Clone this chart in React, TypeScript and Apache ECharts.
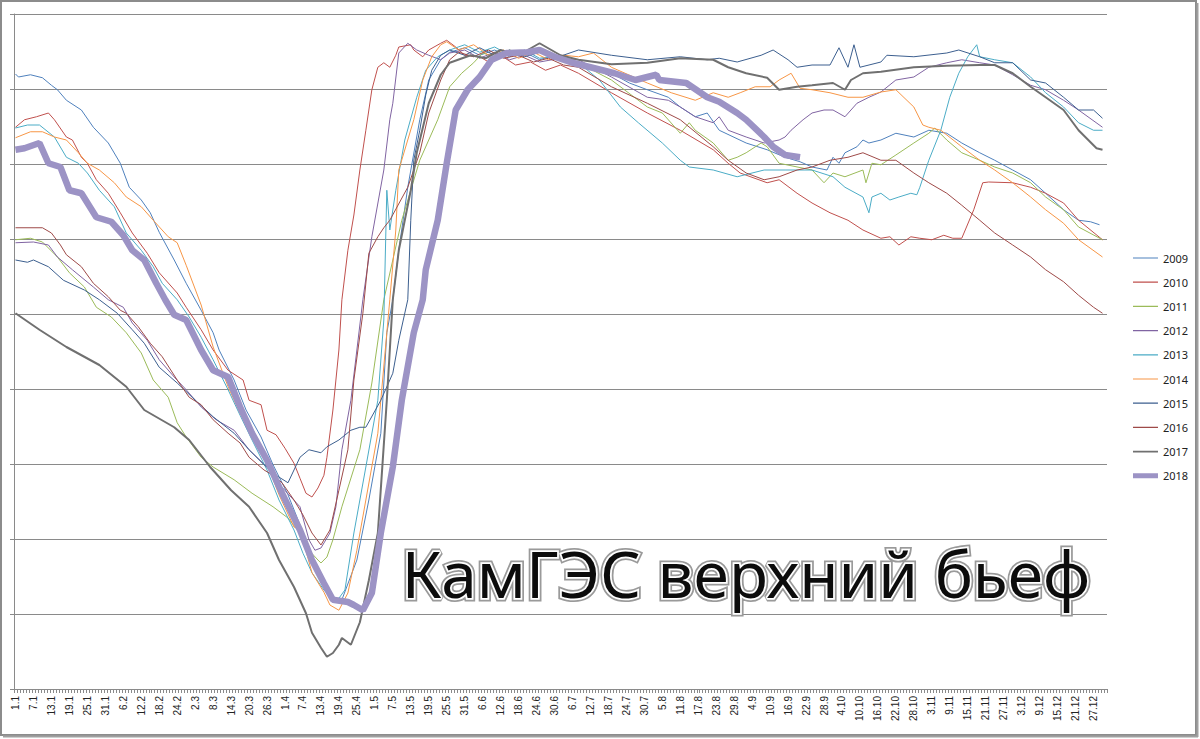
import React, { useEffect, useRef } from "react";
import * as echarts from "echarts";

// Month lengths used to build the daily category labels (d.m)
const MONTH_DAYS = [31, 28, 31, 30, 31, 30, 31, 31, 30, 31, 30, 31];
const dayLabels: string[] = [];
MONTH_DAYS.forEach((n, m) => {
  for (let d = 1; d <= n; d++) dayLabels.push(`${d}.${m + 1}`);
});

const years = ["2009", "2010", "2011", "2012", "2013", "2014", "2015", "2016", "2017", "2018"];

// [day index from 1 Jan, level, m]
const s2009 = [[0,108.2],[1,108.16],[5,108.19],[9,108.15],[12,108.05],[14,107.99],[17,107.85],[22,107.72],[26,107.49],[31,107.28],[35,107.01],[38,106.69],[42,106.52],[45,106.35],[48,106.09],[53,105.72],[57,105.41],[62,105.05],[66,104.75],[68,104.52],[73,104.12],[77,103.72],[82,103.36],[86,102.99],[91,102.59],[95,102.19],[99,101.72],[103,101.39],[106,101.19],[109,101.19],[114,101.72],[118,102.52],[122,103.41],[124,104.75],[126,105.19],[128,105.85],[131,106.69],[135,107.59],[138,108.12],[142,108.39],[145,108.49],[150,108.55],[155,108.45],[160,108.52],[165,108.43],[170,108.49],[175,108.39],[180,108.45],[185,108.36],[188,108.35],[195,108.28],[199,108.21],[205,108.08],[211,107.99],[218,107.89],[222,107.76],[227,107.63],[231,107.68],[235,107.45],[244,107.28],[251,107.19],[257,107.09],[262,107.03],[266,106.96],[271,106.92],[273,107.09],[275,107.01],[277,107.15],[281,107.23],[283,107.32],[285,107.28],[289,107.32],[294,107.41],[300,107.36],[305,107.45],[311,107.41],[316,107.28],[322,107.15],[327,107.05],[333,106.92],[339,106.79],[344,106.61],[350,106.39],[355,106.25],[359,106.23],[362,106.19]];
const s2010 = [[0,107.49],[3,107.59],[7,107.63],[11,107.68],[13,107.59],[17,107.36],[19,107.32],[22,107.09],[24,107.01],[27,106.79],[31,106.61],[35,106.35],[39,106.08],[44,105.81],[48,105.55],[54,105.28],[57,105.09],[62,104.79],[66,104.52],[71,104.25],[76,104.12],[78,103.85],[82,103.79],[84,103.45],[87,103.39],[90,103.21],[93,103.01],[95,102.81],[97,102.61],[99,102.56],[101,102.68],[103,102.85],[104,103.09],[106,103.72],[108,104.52],[109,105.19],[111,105.85],[113,106.32],[115,106.92],[117,107.45],[119,107.99],[121,108.29],[123,108.35],[125,108.29],[127,108.45],[128,108.56],[132,108.59],[133,108.52],[136,108.43],[138,108.52],[142,108.61],[144,108.65],[147,108.56],[150,108.45],[155,108.43],[158,108.36],[162,108.45],[167,108.32],[172,108.36],[177,108.25],[182,108.32],[188,108.21],[199,107.95],[211,107.68],[222,107.45],[233,107.19],[238,107.01],[242,106.88],[251,106.75],[255,106.79],[261,106.61],[266,106.48],[272,106.35],[278,106.25],[283,106.12],[289,106.01],[292,106.03],[295,105.92],[299,106.03],[302,106.01],[306,105.99],[310,106.05],[313,106.01],[316,106.01],[320,106.39],[323,106.75],[325,106.76],[333,106.75],[339,106.69],[344,106.61],[350,106.48],[355,106.25],[363,105.99]];
const s2011 = [[0,105.99],[5,106.01],[9,105.96],[14,105.76],[18,105.55],[23,105.36],[27,105.09],[32,104.96],[37,104.75],[42,104.48],[46,104.12],[51,103.89],[54,103.55],[57,103.36],[62,103.09],[66,102.96],[73,102.79],[79,102.61],[86,102.43],[91,102.28],[95,102.08],[98,101.85],[101,101.72],[102,101.68],[104,101.76],[106,101.99],[109,102.43],[115,103.19],[119,104.08],[123,105.19],[126,105.72],[129,106.25],[135,107.05],[141,107.59],[145,108.03],[149,108.21],[153,108.35],[156,108.48],[160,108.43],[165,108.52],[170,108.45],[175,108.49],[180,108.41],[185,108.39],[188,108.35],[199,108.12],[211,107.76],[216,107.68],[222,107.41],[225,107.55],[227,107.45],[233,107.28],[238,107.05],[241,107.09],[244,107.15],[249,107.28],[251,107.23],[255,107.01],[266,106.92],[270,106.75],[273,106.88],[277,106.83],[283,106.92],[284,106.75],[286,107.01],[289,106.99],[294,107.12],[300,107.28],[305,107.41],[307,107.48],[311,107.32],[316,107.15],[322,107.05],[327,106.96],[333,106.88],[339,106.75],[344,106.56],[350,106.39],[355,106.16],[363,105.99]];
const s2012 = [[0,105.95],[6,105.96],[11,105.92],[14,105.76],[19,105.59],[26,105.36],[31,105.19],[36,105.09],[39,104.88],[44,104.65],[48,104.39],[53,104.16],[57,103.99],[62,103.76],[67,103.59],[73,103.45],[78,103.19],[84,102.96],[89,102.69],[95,102.43],[98,101.99],[100,101.85],[102,101.88],[105,102.08],[107,102.43],[109,103.19],[112,103.85],[114,104.52],[116,105.19],[119,106.03],[123,106.92],[125,107.59],[126,107.81],[128,108.48],[131,108.61],[134,108.52],[138,108.45],[142,108.39],[145,108.48],[150,108.52],[155,108.41],[160,108.49],[165,108.39],[170,108.45],[175,108.36],[182,108.41],[188,108.39],[199,108.16],[211,107.89],[218,107.85],[222,107.76],[227,107.63],[233,107.55],[235,107.63],[238,107.45],[244,107.36],[250,107.28],[255,107.32],[257,107.36],[259,107.45],[263,107.59],[266,107.68],[270,107.72],[273,107.72],[277,107.63],[281,107.81],[285,107.89],[289,107.96],[294,108.12],[300,108.16],[305,108.29],[311,108.35],[316,108.39],[322,108.35],[327,108.32],[333,108.19],[339,108.05],[344,107.99],[350,107.85],[355,107.72],[363,107.49]];
const s2013 = [[0,107.48],[4,107.52],[8,107.52],[13,107.36],[17,107.09],[21,107.01],[24,106.88],[28,106.65],[33,106.43],[37,106.08],[42,105.85],[46,105.63],[49,105.41],[54,105.19],[58,104.96],[62,104.69],[66,104.39],[71,103.99],[75,103.65],[79,103.32],[84,102.92],[88,102.52],[93,102.12],[96,101.81],[99,101.55],[103,101.32],[106,101.19],[108,101.21],[110,101.32],[113,102.08],[117,102.96],[121,103.85],[123,104.92],[124,106.65],[125,106.12],[127,106.65],[130,107.32],[134,107.89],[137,108.25],[141,108.43],[145,108.52],[150,108.59],[155,108.49],[160,108.56],[165,108.45],[170,108.52],[175,108.41],[182,108.45],[188,108.35],[195,108.12],[202,107.76],[208,107.55],[216,107.28],[222,107.05],[225,106.96],[233,106.92],[241,106.83],[250,106.92],[257,106.92],[266,106.92],[273,106.83],[277,106.69],[283,106.56],[285,106.35],[286,106.56],[289,106.61],[292,106.52],[295,106.56],[299,106.61],[301,106.59],[302,106.69],[305,107.05],[309,107.45],[312,107.89],[315,108.21],[318,108.43],[321,108.59],[322,108.43],[327,108.39],[333,108.35],[339,108.16],[344,107.95],[350,107.76],[355,107.55],[360,107.45],[363,107.45]];
const s2014 = [[0,107.35],[5,107.43],[9,107.43],[13,107.36],[17,107.32],[21,107.15],[24,107.01],[28,106.92],[33,106.75],[37,106.56],[42,106.43],[46,106.25],[51,106.03],[54,105.95],[57,105.65],[62,105.12],[66,104.56],[71,104.03],[75,103.68],[79,103.36],[84,103.01],[88,102.59],[93,102.16],[95,102.12],[96,101.99],[99,101.55],[103,101.29],[105,101.12],[108,101.05],[111,101.28],[114,101.85],[117,102.52],[121,103.41],[124,104.75],[125,105.19],[127,106.12],[128,106.92],[133,107.59],[136,108.12],[139,108.43],[142,108.59],[144,108.63],[148,108.52],[153,108.59],[158,108.45],[163,108.52],[168,108.41],[173,108.49],[178,108.39],[183,108.45],[188,108.43],[193,108.48],[199,108.29],[211,108.08],[219,107.95],[227,107.85],[233,107.95],[238,107.89],[242,107.95],[247,108.03],[252,108.03],[255,108.12],[259,108.21],[262,108.01],[266,107.99],[272,107.95],[278,107.89],[283,107.89],[289,107.96],[294,107.99],[300,107.76],[303,107.52],[305,107.49],[309,107.45],[316,107.23],[322,107.05],[327,106.92],[333,106.75],[339,106.56],[344,106.39],[350,106.21],[355,105.99],[363,105.76]];
const s2015 = [[0,105.72],[4,105.69],[6,105.72],[11,105.63],[16,105.45],[23,105.32],[28,105.19],[34,105.01],[39,104.79],[43,104.61],[48,104.29],[54,104.08],[59,103.89],[66,103.63],[73,103.41],[78,103.19],[83,102.99],[87,102.85],[91,102.75],[93,102.92],[95,103.09],[98,103.19],[102,103.15],[104,103.23],[108,103.32],[112,103.45],[115,103.49],[117,103.49],[122,103.85],[126,104.21],[128,104.65],[131,105.19],[132,106.25],[133,107.05],[135,107.45],[137,107.92],[139,108.25],[142,108.45],[145,108.52],[150,108.45],[155,108.55],[160,108.45],[165,108.52],[170,108.43],[175,108.49],[180,108.41],[188,108.52],[199,108.45],[211,108.39],[222,108.43],[231,108.39],[235,108.41],[241,108.36],[249,108.45],[253,108.52],[258,108.39],[261,108.29],[266,108.32],[272,108.32],[275,108.55],[278,108.29],[280,108.59],[282,108.29],[289,108.36],[291,108.45],[300,108.43],[311,108.48],[315,108.52],[322,108.43],[327,108.35],[333,108.35],[339,108.12],[344,108.08],[350,107.89],[355,107.72],[360,107.72],[363,107.61]];
const s2016 = [[0,106.15],[9,106.15],[12,106.08],[15,105.92],[17,105.79],[22,105.63],[26,105.41],[31,105.23],[35,105.05],[37,105.01],[41,104.83],[45,104.61],[49,104.43],[54,104.12],[58,103.89],[62,103.79],[66,103.59],[71,103.41],[75,103.28],[78,103.09],[83,102.92],[86,102.85],[89,102.75],[93,102.52],[96,102.32],[99,102.08],[102,101.92],[105,102.12],[108,102.65],[111,103.19],[113,104.12],[116,105.01],[118,105.81],[121,106.03],[123,106.15],[125,106.25],[131,106.69],[135,107.15],[138,107.68],[142,108.12],[145,108.39],[148,108.49],[153,108.43],[158,108.52],[163,108.41],[168,108.45],[173,108.36],[178,108.41],[183,108.32],[188,108.29],[199,108.03],[211,107.81],[222,107.59],[233,107.23],[238,107.05],[244,106.88],[250,106.79],[255,106.83],[261,106.92],[266,106.96],[272,107.05],[278,107.09],[283,107.15],[289,107.05],[294,107.05],[300,106.88],[305,106.75],[311,106.61],[316,106.45],[322,106.25],[327,106.08],[333,105.92],[339,105.76],[344,105.59],[350,105.43],[355,105.25],[360,105.09],[363,105.01]];
const s2017 = [[0,105.01],[8,104.79],[17,104.56],[28,104.32],[37,104.03],[43,103.72],[53,103.49],[58,103.32],[65,102.96],[72,102.65],[78,102.43],[84,102.08],[88,101.72],[93,101.36],[97,101.01],[99,100.75],[102,100.55],[104,100.43],[106,100.48],[108,100.59],[109,100.68],[112,100.59],[115,100.89],[118,101.45],[121,102.08],[124,103.85],[126,105.19],[128,105.85],[132,106.65],[134,107.15],[138,107.81],[142,108.19],[145,108.35],[152,108.45],[157,108.41],[162,108.52],[168,108.45],[175,108.61],[182,108.45],[188,108.39],[199,108.33],[211,108.35],[222,108.41],[233,108.39],[238,108.29],[244,108.21],[251,108.15],[255,107.99],[261,108.03],[266,108.05],[273,108.08],[277,107.99],[279,108.12],[283,108.21],[289,108.23],[300,108.29],[311,108.31],[322,108.32],[327,108.32],[333,108.21],[339,108.03],[344,107.89],[350,107.72],[355,107.45],[361,107.21],[363,107.19]];
const s2018 = [[0,107.19],[3,107.21],[8,107.28],[11,107.01],[15,106.96],[18,106.65],[22,106.61],[27,106.29],[32,106.23],[36,106.05],[39,105.85],[43,105.72],[47,105.41],[50,105.19],[53,104.99],[57,104.92],[62,104.52],[66,104.25],[71,104.16],[75,103.76],[79,103.41],[84,103.05],[89,102.61],[95,102.12],[99,101.72],[103,101.41],[106,101.19],[111,101.16],[113,101.12],[116,101.05],[119,101.28],[122,102.08],[126,102.96],[129,103.85],[133,104.75],[136,105.19],[137,105.59],[141,106.25],[144,107.01],[147,107.72],[151,107.99],[155,108.16],[159,108.39],[164,108.48],[171,108.49],[175,108.52],[180,108.43],[186,108.35],[192,108.29],[200,108.21],[207,108.12],[214,108.19],[215,108.12],[224,108.08],[231,107.89],[235,107.83],[241,107.68],[244,107.59],[250,107.36],[253,107.23],[257,107.12],[262,107.09]];

const seriesData = [s2009, s2010, s2011, s2012, s2013, s2014, s2015, s2016, s2017, s2018];
const colors = ["#4F81BD", "#C0504D", "#9BBB59", "#8064A2", "#4BACC6", "#F79646", "#3C5F8F", "#9E4A48", "#707070", "#9C93C5"];
const widths = [1, 1, 1, 1, 1, 1, 1, 1, 2, 6.5];

const TITLE = "КамГЭС верхний бьеф";

// legend icon: a horizontal bar of the given thickness inside a 25x14 box
function barIcon(t: number) {
  const a = 7 - t / 2;
  const b = 7 + t / 2;
  return `path://M0,0L25,0L25,0.01L0,0.01Z M0,${a}L25,${a}L25,${b}L0,${b}Z M0,14L25,14L25,14.01L0,14.01Z`;
}

export default function App() {
  const ref = useRef<HTMLDivElement>(null);
  useEffect(() => {
    document.body.style.margin = "0";
    const chart = echarts.init(ref.current!, null, { renderer: "svg" });
    chart.setOption({
      animation: false,
      backgroundColor: "#ffffff",
      grid: { left: 14, top: 14, right: 93, bottom: 50, containLabel: false },
      legend: {
        orient: "vertical",
        left: 1128,
        top: 246,
        itemWidth: 25,
        itemHeight: 14,
        itemGap: 10.2,
        data: years.map((y, i) => ({ name: y, icon: barIcon(i === 9 ? 5 : i === 8 ? 1.8 : 1.2) })),
        textStyle: { fontSize: 11, color: "#222", fontFamily: "Noto Sans" },
      },
      xAxis: {
        type: "category",
        data: dayLabels,
        boundaryGap: true,
        axisLine: { lineStyle: { color: "#8a8a8a", width: 1 } },
        axisTick: { show: true, interval: 0, length: 4, lineStyle: { color: "#8a8a8a" } },
        axisLabel: {
          interval: 5,
          rotate: 90,
          fontSize: 10,
          color: "#222",
          fontFamily: "Liberation Sans",
          margin: 7,
        },
        splitLine: { show: false },
      },
      yAxis: {
        type: "value",
        min: 100,
        max: 109,
        interval: 1,
        axisLabel: { show: false },
        axisLine: { show: true, lineStyle: { color: "#8a8a8a" } },
        axisTick: { show: true, length: 4, lineStyle: { color: "#8a8a8a" } },
        splitLine: { show: true, lineStyle: { color: "#8a8a8a", width: 1 } },
      },
      series: years.map((y, i) => ({
        name: y,
        type: "line",
        data: seriesData[i],
        symbol: "none",
        showSymbol: false,
        color: colors[i],
        lineStyle: { color: colors[i], width: widths[i] },
        z: i === 9 ? 5 : 2,
      })),
      graphic: [
        {
          type: "rect",
          shape: { x: 1, y: 1, width: 1195, height: 734 },
          style: { fill: "none", stroke: "#8c8c8c", lineWidth: 2 },
          silent: true,
        },
        {
          type: "line",
          shape: { x1: 1197.5, y1: 3, x2: 1197.5, y2: 737 },
          style: { stroke: "#a0a0a0", lineWidth: 2 },
          silent: true,
        },
        {
          type: "line",
          shape: { x1: 3, y1: 736.5, x2: 1198, y2: 736.5 },
          style: { stroke: "#a0a0a0", lineWidth: 2 },
          silent: true,
        },
        {
          type: "text",
          x: 746,
          y: 573,
          z: 100,
          style: {
            text: TITLE,
            fontSize: 64,
            fontFamily: "Noto Sans",
            textAlign: "center",
            textVerticalAlign: "middle",
            fill: "#9a9a9a",
            stroke: "#9a9a9a",
            lineWidth: 7,
          },
          silent: true,
        },
        {
          type: "text",
          x: 746,
          y: 573,
          z: 101,
          style: {
            text: TITLE,
            fontSize: 64,
            fontFamily: "Noto Sans",
            textAlign: "center",
            textVerticalAlign: "middle",
            fill: "#0c0c0c",
            stroke: "#ffffff",
            lineWidth: 3.5,
          },
          silent: true,
        },
      ],
    });
    return () => chart.dispose();
  }, []);
  return <div ref={ref} style={{ width: 1200, height: 739 }} />;
}
